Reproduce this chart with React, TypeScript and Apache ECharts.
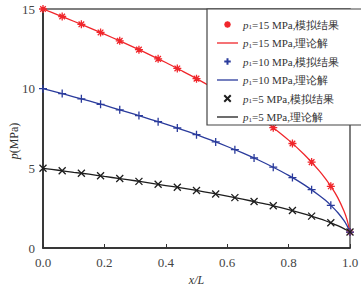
import React, { useEffect, useRef } from "react";
import * as echarts from "echarts";

const simX = [0, 0.0625, 0.125, 0.1875, 0.25, 0.3125, 0.375, 0.4375, 0.5, 0.5625, 0.625, 0.6875, 0.75, 0.8125, 0.875, 0.9375, 1];
const sim15 = [15, 14.53, 14.04, 13.53, 13, 12.45, 11.87, 11.27, 10.63, 9.95, 9.22, 8.43, 7.55, 6.56, 5.39, 3.87, 1];
const sim10 = [10, 9.69, 9.36, 9.02, 8.67, 8.31, 7.93, 7.53, 7.11, 6.66, 6.17, 5.65, 5.07, 4.42, 3.66, 2.68, 1];
const sim5 = [5, 4.85, 4.69, 4.53, 4.36, 4.18, 4.0, 3.81, 3.61, 3.39, 3.16, 2.92, 2.65, 2.35, 2.0, 1.58, 1];

const thX = [0, 0.05, 0.1, 0.15, 0.2, 0.25, 0.3, 0.35, 0.4, 0.45, 0.5, 0.55, 0.6, 0.65, 0.7, 0.75, 0.8, 0.85, 0.9, 0.92, 0.94, 0.96, 0.98, 0.99, 1];
const th15 = [15, 14.62, 14.23, 13.83, 13.42, 13, 12.56, 12.11, 11.64, 11.14, 10.63, 10.09, 9.52, 8.91, 8.26, 7.55, 6.77, 5.88, 4.84, 4.35, 3.8, 3.16, 2.34, 1.8, 1];
const th10 = [10, 9.75, 9.49, 9.23, 8.96, 8.67, 8.38, 8.08, 7.77, 7.45, 7.11, 6.75, 6.37, 5.97, 5.54, 5.07, 4.56, 3.98, 3.3, 2.99, 2.63, 2.23, 1.73, 1.41, 1];
const th5 = [5, 4.88, 4.75, 4.63, 4.49, 4.36, 4.22, 4.07, 3.92, 3.77, 3.61, 3.44, 3.26, 3.07, 2.86, 2.65, 2.41, 2.14, 1.84, 1.71, 1.56, 1.4, 1.22, 1.11, 1];

const seriesNames = [
  "p1=15 MPa,模拟结果",
  "p1=15 MPa,理论解",
  "p1=10 MPa,模拟结果",
  "p1=10 MPa,理论解",
  "p1=5 MPa,模拟结果",
  "p1=5 MPa,理论解",
];
const yTicks = [0, 5, 10, 15];
const xAxisName = "x/L";
const yAxisName = "{i|p}{u|(MPa)}";

const RED = "#f0262b";
const BLUE = "#2a3b9c";
const BLACK = "#1e1e1e";
const FONT = "'Liberation Serif', 'Times New Roman', serif";

const ASTER = "path://M0,5L10,5M5,0L5,10M1.5,1.5L8.5,8.5M1.5,8.5L8.5,1.5";
const PLUS = "path://M0,5L10,5M5,0L5,10";
const CROSS = "path://M0,0L10,10M0,10L10,0";
const LINE_ICON = "path://M0,0L21,0L21,1.3L0,1.3Z";
const PAD_BOX = "M-3.5,-3.5L-3.5,-3.5M13.5,13.5L13.5,13.5";
const LEGEND_ICONS = [
  "path://" + PAD_BOX + ASTER.slice(7),
  LINE_ICON,
  "path://" + PAD_BOX + PLUS.slice(7),
  LINE_ICON,
  "path://" + PAD_BOX + CROSS.slice(7),
  LINE_ICON,
];

const pair = (xs: number[], ys: number[]) => xs.map((x, i) => [x, ys[i]]);

export default function App() {
  const ref = useRef<HTMLDivElement>(null);
  useEffect(() => {
    if (!ref.current) return;
    const chart = echarts.init(ref.current, undefined, { renderer: "svg" });
    const scatter = (name: string, ys: number[], symbol: string, color: string, size: number) => ({
      name,
      type: "scatter",
      data: pair(simX, ys),
      symbol,
      symbolSize: size,
      z: 4,
      itemStyle: { color: "rgba(0,0,0,0)", borderColor: color, borderWidth: 1.3, opacity: 1 },
    });
    const line = (name: string, ys: number[], color: string) => ({
      name,
      type: "line",
      data: pair(thX, ys),
      symbol: "none",
      smooth: 0.3,
      z: 3,
      lineStyle: { color, width: 1.3 },
      itemStyle: { color },
    });
    chart.setOption({
      animation: false,
      backgroundColor: "#fff",
      textStyle: { fontFamily: FONT },
      grid: {
        left: 43,
        right: 11,
        top: 9,
        bottom: 39,
        outerBoundsMode: "none",
        containLabel: false,
        show: true,
        borderColor: "#555",
        borderWidth: 1.5,
      },
      xAxis: {
        type: "value",
        min: 0,
        max: 1,
        interval: 0.2,
        name: xAxisName,
        nameLocation: "middle",
        nameGap: 23,
        nameTextStyle: { fontFamily: FONT, fontStyle: "italic", fontSize: 12, color: "#333" },
        axisLine: { lineStyle: { color: "#222", width: 1.5 } },
        axisTick: { inside: true, length: 4, lineStyle: { color: "#333" } },
        axisLabel: {
          fontFamily: FONT,
          fontSize: 13,
          color: "#444",
          margin: 8,
          formatter: (v: number) => v.toFixed(1),
        },
        splitLine: { show: false },
      },
      yAxis: {
        type: "value",
        min: yTicks[0],
        max: yTicks[yTicks.length - 1],
        interval: 5,
        axisLine: { show: true, lineStyle: { color: "#222", width: 1.5 } },
        axisTick: { show: false },
        axisLabel: { fontFamily: FONT, fontSize: 13, color: "#444", margin: 8 },
        splitLine: { show: false },
      },
      graphic: [
        {
          type: "text",
          x: 14,
          y: 141,
          rotation: Math.PI / 2,
          style: {
            text: yAxisName,
            align: "center",
            verticalAlign: "middle",
            fontFamily: FONT,
            fontSize: 12,
            fill: "#333",
            rich: {
              i: { fontFamily: FONT, fontStyle: "italic", fontSize: 12, fill: "#333" },
              u: { fontFamily: FONT, fontSize: 12, fill: "#333" },
            },
          },
        },
      ],
      legend: {
        orient: "vertical",
        left: 207,
        top: 9,
        padding: [9, 28, 2, 10],
        backgroundColor: "#fff",
        borderColor: "#444",
        borderWidth: 1.2,
        itemGap: 6,
        itemWidth: 21,
        itemHeight: 11,
        z: 20,
        data: seriesNames.map((name, i) => ({ name, icon: LEGEND_ICONS[i] })),
        formatter: (name: string) => `{i|p}{s|1}{t|${name.slice(2)}}`,
        textStyle: {
          fontFamily: FONT,
          fontSize: 11,
          color: "#333",
          rich: {
            i: { fontFamily: FONT, fontStyle: "italic", fontSize: 11, lineHeight: 11, color: "#333" },
            s: { fontFamily: FONT, fontSize: 7, lineHeight: 11, color: "#333", padding: [5, 0, 0, 0] },
            t: { fontFamily: FONT, fontSize: 11, lineHeight: 11, color: "#333" },
          },
        },
      },
      series: [
        scatter(seriesNames[0], sim15, ASTER, RED, 8),
        line(seriesNames[1], th15, RED),
        scatter(seriesNames[2], sim10, PLUS, BLUE, 8),
        line(seriesNames[3], th10, BLUE),
        scatter(seriesNames[4], sim5, CROSS, BLACK, 7),
        line(seriesNames[5], th5, BLACK),
      ],
    });
    return () => chart.dispose();
  }, []);
  return <div ref={ref} style={{ width: 361, height: 287, position: "absolute", left: 0, top: 0 }} />;
}
